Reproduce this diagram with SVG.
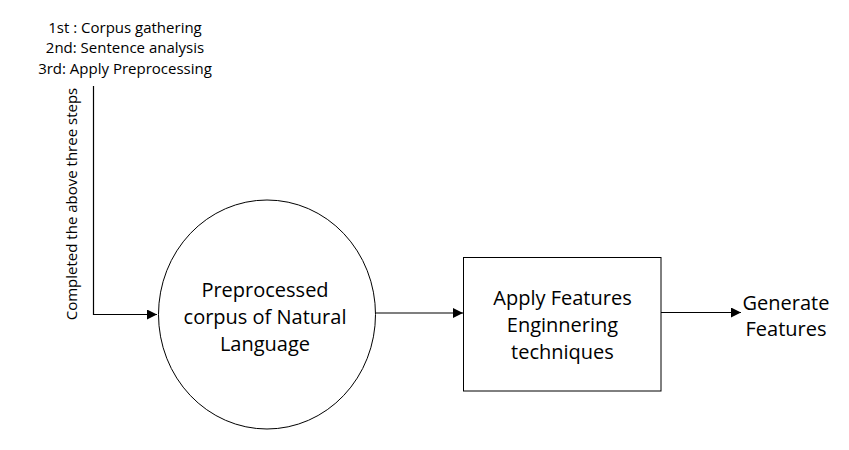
<svg xmlns="http://www.w3.org/2000/svg" width="849" height="450" viewBox="0 0 849 450">
<style>
text{font-family:"Open Sans","Noto Sans","DejaVu Sans",sans-serif;fill:#000;text-anchor:middle}
.s{font-size:15px}
.m{font-size:20px}
.shape{fill:#fff;stroke:#000;stroke-width:1}
.edge{fill:none;stroke:#000;stroke-width:1.2}
</style>
<defs>
<marker id="ah" viewBox="0 0 10 10" refX="10" refY="5" markerWidth="10" markerHeight="10" markerUnits="userSpaceOnUse" orient="auto">
<path d="M0,0 L10,5 L0,10 z" fill="#000"/>
</marker>
</defs>
<rect width="849" height="450" fill="#fff"/>
<g id="steps">
<text class="s" x="125" y="32.5">1st : Corpus gathering</text>
<text class="s" x="125" y="53">2nd: Sentence analysis</text>
<text class="s" x="125" y="73.5">3rd: Apply Preprocessing</text>
</g>
<g id="connectors">
<path class="edge" d="M93.5,86 V314.5 H157" marker-end="url(#ah)"/>
<path class="edge" d="M376,313 H463" marker-end="url(#ah)"/>
<path class="edge" d="M661,312.5 H741" marker-end="url(#ah)"/>
<text class="s" transform="translate(77,204) rotate(-90)">Completed the above three steps</text>
</g>
<g id="corpus">
<ellipse class="shape" cx="267" cy="314.5" rx="108.5" ry="114.5"/>
<text class="m" x="265" y="297">Preprocessed</text>
<text class="m" x="265" y="324">corpus of Natural</text>
<text class="m" x="265" y="351">Language</text>
</g>
<g id="features">
<rect class="shape" x="463.5" y="257.5" width="197.5" height="133.5"/>
<text class="m" x="562.5" y="305">Apply Features</text>
<text class="m" x="562.5" y="332">Enginnering</text>
<text class="m" x="562.5" y="359">techniques</text>
</g>
<g id="generate">
<text class="m" x="786" y="310">Generate</text>
<text class="m" x="786" y="336">Features</text>
</g>
</svg>
